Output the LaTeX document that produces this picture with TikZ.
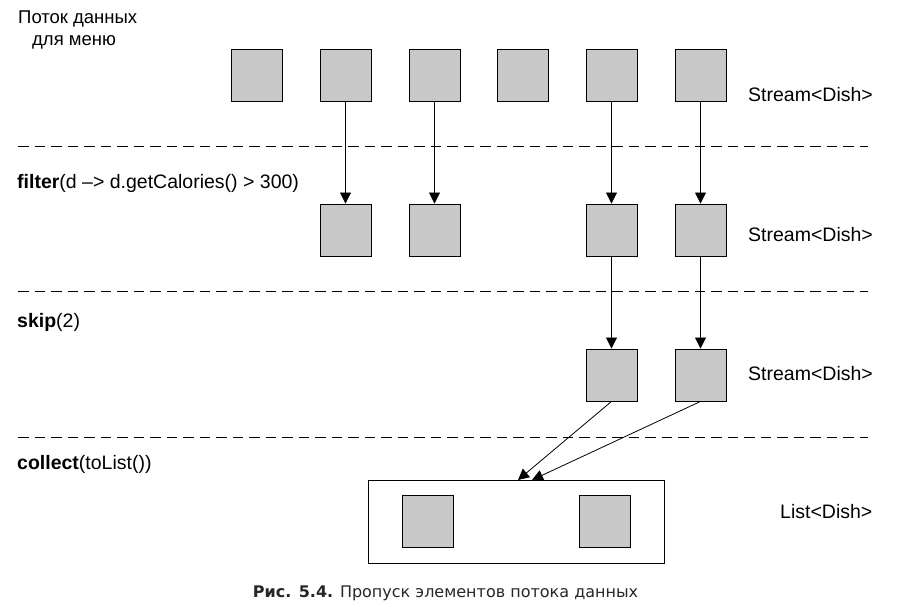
\documentclass[tikz,border=0pt]{standalone}
\usepackage{fontspec}
\setmainfont{Liberation Sans}
\newfontfamily\capfont{DejaVu Sans}
\usetikzlibrary{arrows.meta}
\definecolor{boxgray}{HTML}{C8C8C8}
\definecolor{capgray}{HTML}{262626}
\tikzset{
  item/.style={draw=black, fill=boxgray, line width=0.9pt, minimum width=51pt, minimum height=52pt, inner sep=0pt},
  sep/.style={dash pattern=on 10.5pt off 6pt, line width=0.9pt},
  flow/.style={-{Triangle[length=11pt,width=11pt]}, line width=0.8pt},
  lbl/.style={font=\fontsize{19.5}{22}\selectfont, inner sep=0pt, anchor=base west},
  hdr/.style={font=\fontsize{18.5}{22}\selectfont, inner sep=0pt, anchor=base west},
}
\begin{document}
\begin{tikzpicture}[x=1pt,y=-1pt]
\useasboundingbox (0,0) rectangle (902,607);
% top row
\node[item] (a1) at (257,75) {};
\node[item] (a2) at (345.5,75) {};
\node[item] (a3) at (434.5,75) {};
\node[item] (a4) at (523,75) {};
\node[item] (a5) at (611.5,75) {};
\node[item] (a6) at (700.5,75) {};
% second row
\node[item] (b2) at (345.5,230) {};
\node[item] (b3) at (434.5,230) {};
\node[item] (b5) at (611.5,230) {};
\node[item] (b6) at (700.5,230) {};
% third row
\node[item] (c5) at (611.5,375) {};
\node[item] (c6) at (700.5,375) {};
% list
\node[draw=black, line width=0.9pt, minimum width=296pt, minimum height=83pt, inner sep=0pt] (lst) at (516,521.5) {};
\node[item] (l1) at (427.5,521) {};
\node[item] (l2) at (605,521) {};
\coordinate (t1) at (518,480);
\coordinate (t2) at (532,480);
% separators
\coordinate (s1a) at (18,146); \coordinate (s1b) at (868,146);
\coordinate (s2a) at (18,291); \coordinate (s2b) at (868,291);
\coordinate (s3a) at (18,437); \coordinate (s3b) at (868,437);
\draw[sep] (s1a) -- (s1b);
\draw[sep] (s2a) -- (s2b);
\draw[sep] (s3a) -- (s3b);
% arrows
\draw[flow] (a2) -- (b2);
\draw[flow] (a3) -- (b3);
\draw[flow] (a5) -- (b5);
\draw[flow] (a6) -- (b6);
\draw[flow] (b5) -- (c5);
\draw[flow] (b6) -- (c6);
\draw[flow] (c5.south) -- (t1);
\draw[flow] (c6.south) -- (t2);
% labels
\node[hdr] (h1) at (18,24) {Поток данных};
\node[hdr] (h2) at (32,46) {для меню};
\node[lbl] (f) at (17,188) {\textbf{filter}(d –> d.getCalories() > 300)};
\node[lbl] (sk) at (17,327) {\textbf{skip}(2)};
\node[lbl] (co) at (17,469) {\textbf{collect}(toList())};
\node[lbl] (r1) at (748,102) {Stream<Dish>};
\node[lbl] (r2) at (748,241) {Stream<Dish>};
\node[lbl] (r3) at (748,380) {Stream<Dish>};
\node[lbl] (r4) at (780,518) {List<Dish>};
\node[text=capgray, font=\capfont\fontsize{16}{18}\selectfont, inner sep=0pt, anchor=base] (cap) at (445.5,597) {\textbf{Рис. 5.4.} Пропуск элементов потока данных};
\end{tikzpicture}
\end{document}
